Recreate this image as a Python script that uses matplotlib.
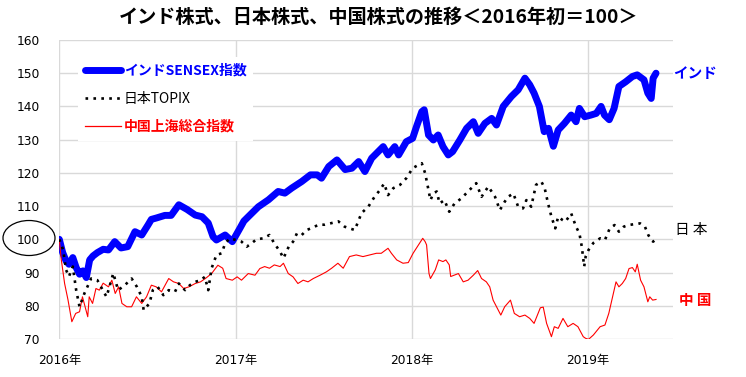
import matplotlib
matplotlib.use("Agg")
import matplotlib.pyplot as plt
import matplotlib.dates as mdates
from matplotlib.patches import Ellipse
from matplotlib.lines import Line2D
import pandas as pd

plt.rcParams['font.family'] = ['DejaVu Sans', 'Noto Sans CJK JP']
JP = ['Noto Sans CJK JP', 'DejaVu Sans']

# インド SENSEX (2016年初=100)
india_dates = [
    '2016-01-01', '2016-01-08', '2016-01-15', '2016-01-21', '2016-01-29', '2016-02-05',
    '2016-02-12', '2016-02-19', '2016-02-26', '2016-03-04', '2016-03-11', '2016-03-20',
    '2016-04-01', '2016-04-12', '2016-04-25', '2016-05-08', '2016-05-22', '2016-06-06',
    '2016-06-20', '2016-07-03', '2016-07-10', '2016-07-20', '2016-08-07', '2016-08-20',
    '2016-09-05', '2016-09-22', '2016-10-09', '2016-10-23', '2016-11-05', '2016-11-15',
    '2016-11-22', '2016-12-10', '2016-12-25', '2017-01-10', '2017-01-18', '2017-02-03',
    '2017-02-17', '2017-03-10', '2017-03-30', '2017-04-13', '2017-04-27', '2017-05-18',
    '2017-06-05', '2017-06-19', '2017-06-28', '2017-07-13', '2017-07-30', '2017-08-16',
    '2017-08-30', '2017-09-13', '2017-09-26', '2017-10-10', '2017-11-03', '2017-11-13',
    '2017-11-27', '2017-12-05', '2017-12-21', '2018-01-03', '2018-01-11', '2018-01-22',
    '2018-01-27', '2018-02-05', '2018-02-15', '2018-02-25', '2018-03-07', '2018-03-18',
    '2018-03-27', '2018-04-11', '2018-04-25', '2018-05-09', '2018-05-19', '2018-06-02',
    '2018-06-16', '2018-06-26', '2018-07-10', '2018-07-27', '2018-08-10', '2018-08-24',
    '2018-09-03', '2018-09-12', '2018-09-23', '2018-10-03', '2018-10-12', '2018-10-22',
    '2018-11-01', '2018-11-14', '2018-11-28', '2018-12-08', '2018-12-15', '2018-12-26',
    '2019-01-08', '2019-01-19', '2019-01-29', '2019-02-05', '2019-02-15', '2019-02-25',
    '2019-03-07', '2019-03-21', '2019-04-04', '2019-04-14', '2019-04-28', '2019-05-06',
    '2019-05-13', '2019-05-17', '2019-05-23',
]
india_vals = [
    100, 96, 93.5, 92.5, 94.5, 91.5,
    89.5, 90.5, 88.5, 93.8, 95, 96,
    97, 96.8, 99.3, 97.4, 97.8, 102.3,
    101.3, 104.3, 106, 106.4, 107.2, 107.2,
    110.4, 109, 107.3, 106.8, 104.9, 100.8,
    99.8, 101.3, 99.3, 103.4, 105.5, 107.8,
    109.8, 111.9, 114.4, 113.9, 115.4, 117.4,
    119.4, 119.4, 118.4, 121.9, 123.9, 121,
    121.4, 123.4, 120.4, 124.4, 127.9, 125.4,
    127.9, 125.4, 129.4, 130.4, 133.9, 138.4,
    139, 131.4, 129.9, 131.4, 127.9, 125.4,
    126.4, 129.9, 133.4, 135.4, 131.9, 134.9,
    136.4, 134.4, 140, 143, 145, 148.5,
    146.5, 144, 140, 132.4, 133.4, 128,
    132.9, 134.9, 137.4, 135.4, 139.4, 136.9,
    137.4, 137.9, 140, 137.4, 136, 139.4,
    146, 147.4, 149, 149.5, 148, 144,
    142.4, 148.5, 150,
]

# 日本 TOPIX
japan_dates = [
    '2016-01-01', '2016-01-09', '2016-01-15', '2016-01-21', '2016-01-29', '2016-02-05',
    '2016-02-12', '2016-02-22', '2016-03-07', '2016-03-20', '2016-04-04', '2016-04-08',
    '2016-04-22', '2016-05-02', '2016-05-16', '2016-05-30', '2016-06-10', '2016-06-20',
    '2016-06-24', '2016-07-06', '2016-07-13', '2016-07-23', '2016-08-04', '2016-08-15',
    '2016-08-28', '2016-09-05', '2016-09-18', '2016-09-28', '2016-10-09', '2016-10-20',
    '2016-10-29', '2016-11-05', '2016-11-12', '2016-11-22', '2016-12-03', '2016-12-10',
    '2016-12-20', '2017-01-01', '2017-01-13', '2017-01-24', '2017-02-03', '2017-02-13',
    '2017-02-27', '2017-03-12', '2017-03-22', '2017-04-03', '2017-04-10', '2017-04-21',
    '2017-04-30', '2017-05-08', '2017-05-18', '2017-05-28', '2017-06-08', '2017-06-22',
    '2017-07-05', '2017-07-22', '2017-08-02', '2017-08-15', '2017-08-25', '2017-09-05',
    '2017-09-19', '2017-10-03', '2017-10-16', '2017-10-27', '2017-11-05', '2017-11-13',
    '2017-11-24', '2017-12-08', '2017-12-21', '2018-01-03', '2018-01-15', '2018-01-22',
    '2018-01-29', '2018-02-05', '2018-02-09', '2018-02-15', '2018-02-22', '2018-02-28',
    '2018-03-10', '2018-03-20', '2018-03-31', '2018-04-14', '2018-04-28', '2018-05-15',
    '2018-05-26', '2018-06-09', '2018-06-23', '2018-07-03', '2018-07-13', '2018-07-20',
    '2018-07-31', '2018-08-10', '2018-08-20', '2018-08-27', '2018-09-06', '2018-09-16',
    '2018-09-27', '2018-10-04', '2018-10-11', '2018-10-18', '2018-10-26', '2018-11-01',
    '2018-11-10', '2018-11-16', '2018-11-28', '2018-12-08', '2018-12-15', '2018-12-20',
    '2018-12-25', '2018-12-28', '2019-01-03', '2019-01-13', '2019-01-27', '2019-02-06',
    '2019-02-16', '2019-02-26', '2019-03-07', '2019-03-17', '2019-03-27', '2019-04-10',
    '2019-04-20', '2019-04-30', '2019-05-07', '2019-05-13', '2019-05-17', '2019-05-23',
]
japan_vals = [
    100, 96.8, 90.8, 88.8, 91.8, 84.7,
    79.7, 83.7, 88.2, 87.7, 83.7, 82.7,
    89.8, 84.7, 86.2, 88.2, 85.7, 82.7,
    78.7, 80.7, 84.7, 85.7, 83.2, 84.7,
    84.2, 86.7, 84.7, 86.2, 87.2, 87.7,
    88.7, 84.7, 91.3, 95.3, 95.8, 98.8,
    100.3, 99.8, 99.3, 97.8, 98.8, 100,
    100.3, 101.3, 98.8, 96.3, 94.3, 97.8,
    99.3, 101.8, 101.3, 102.8, 103.4, 104.4,
    104.4, 105, 105.4, 103.8, 103.3, 102.8,
    107.9, 109.8, 112.8, 114.8, 116.8, 113.3,
    115.4, 116.4, 118.4, 121.4, 122.4, 122.9,
    119.9, 114.8, 111.8, 113.8, 114.4, 110.8,
    111.8, 108.3, 110.8, 112.3, 114.4, 116.9,
    112.8, 115.9, 112.8, 108.8, 111.3, 112.8,
    113.8, 109.8, 109.3, 111.8, 109.8, 116.4,
    117.4, 115.4, 110.8, 106.8, 103.3, 106.8,
    105.8, 105.3, 107.8, 103.8, 101.8, 97.8,
    91.8, 94.8, 96.8, 98.9, 100.3, 99.8,
    103.3, 104.3, 102.3, 103.8, 104.3, 104.6,
    104.8, 103.8, 101.3, 99.8, 99.3, 100,
]

# 中国 上海総合
china_dates = [
    '2016-01-01', '2016-01-05', '2016-01-12', '2016-01-19', '2016-01-27', '2016-02-04',
    '2016-02-12', '2016-02-18', '2016-02-29', '2016-03-03', '2016-03-10', '2016-03-17',
    '2016-03-24', '2016-04-01', '2016-04-12', '2016-04-19', '2016-04-26', '2016-05-03',
    '2016-05-10', '2016-05-20', '2016-05-30', '2016-06-09', '2016-06-20', '2016-06-30',
    '2016-07-10', '2016-07-20', '2016-07-31', '2016-08-15', '2016-08-25', '2016-09-05',
    '2016-09-15', '2016-09-26', '2016-10-09', '2016-10-20', '2016-10-30', '2016-11-12',
    '2016-11-25', '2016-12-05', '2016-12-12', '2016-12-25', '2017-01-04', '2017-01-13',
    '2017-01-27', '2017-02-10', '2017-02-20', '2017-03-02', '2017-03-12', '2017-03-22',
    '2017-04-03', '2017-04-10', '2017-04-20', '2017-04-30', '2017-05-10', '2017-05-21',
    '2017-05-31', '2017-06-11', '2017-06-25', '2017-07-08', '2017-07-19', '2017-08-01',
    '2017-08-12', '2017-08-25', '2017-09-08', '2017-09-22', '2017-10-06', '2017-10-20',
    '2017-10-30', '2017-11-13', '2017-11-20', '2017-12-01', '2017-12-14', '2017-12-25',
    '2018-01-04', '2018-01-15', '2018-01-24', '2018-01-29', '2018-02-01', '2018-02-06',
    '2018-02-09', '2018-02-19', '2018-02-26', '2018-03-07', '2018-03-13', '2018-03-20',
    '2018-03-23', '2018-04-08', '2018-04-18', '2018-04-28', '2018-05-09', '2018-05-18',
    '2018-05-26', '2018-06-05', '2018-06-12', '2018-06-19', '2018-06-26', '2018-07-05',
    '2018-07-13', '2018-07-25', '2018-08-02', '2018-08-13', '2018-08-24', '2018-09-03',
    '2018-09-12', '2018-09-25', '2018-10-01', '2018-10-08', '2018-10-18', '2018-10-24',
    '2018-11-01', '2018-11-11', '2018-11-21', '2018-12-02', '2018-12-12', '2018-12-23',
    '2018-12-28', '2019-01-03', '2019-01-13', '2019-01-27', '2019-02-06', '2019-02-14',
    '2019-02-22', '2019-03-01', '2019-03-07', '2019-03-14', '2019-03-21', '2019-03-28',
    '2019-04-04', '2019-04-10', '2019-04-14', '2019-04-21', '2019-04-28', '2019-05-06',
    '2019-05-10', '2019-05-16', '2019-05-23',
]
china_vals = [
    100, 94, 86.7, 81.8, 75.2, 77.7,
    78.2, 82.7, 76.7, 82.7, 80.7, 85.2,
    84.7, 86.8, 85.7, 87.7, 83.7, 85.7,
    80.7, 79.7, 79.7, 82.7, 80.7, 82.7,
    86.2, 85.7, 84.2, 88.2, 87.2, 86.7,
    85.2, 85.7, 86.7, 87.2, 88.2, 89.7,
    92.2, 91.3, 88.2, 87.7, 88.7, 87.7,
    89.7, 89.2, 91.2, 91.8, 91.3, 92.3,
    91.8, 92.8, 89.7, 88.7, 86.7, 87.7,
    87.2, 88.2, 89.2, 90.2, 91.3, 92.8,
    91.3, 94.8, 95.3, 94.8, 95.3, 95.8,
    95.8, 97.3, 95.8, 93.8, 92.8, 93,
    95.8, 98.3, 100.3, 99.3, 98.3, 89.7,
    88.2, 90.8, 93.8, 93.3, 93.8, 92.3,
    88.8, 89.7, 87.2, 87.7, 89.2, 90.6,
    88.2, 87.2, 85.7, 81.7, 79.7, 77.2,
    79.7, 81.7, 77.7, 76.7, 77.2, 76.2,
    74.7, 79.4, 79.6, 74.7, 70.7, 73.7,
    73.2, 76.2, 73.7, 74.7, 73.7, 70.7,
    70.2, 69.9, 71.2, 73.7, 74.2, 77.7,
    82.7, 87.2, 85.7, 86.7, 88.2, 91.2,
    91.5, 90.2, 92.5, 87.7, 85.7, 81.2,
    82.7, 81.7, 81.9,
]

year_ticks = ['2016-01-01', '2017-01-01', '2018-01-01', '2019-01-01']
year_labels = ['2016年', '2017年', '2018年', '2019年']
y_ticks = [70, 80, 90, 100, 110, 120, 130, 140, 150, 160]

fig = plt.figure(figsize=(7.46, 3.77), dpi=100)
ax = fig.add_axes([0.0795, 0.1008, 0.8225, 0.7932])

ax.plot(pd.to_datetime(india_dates), india_vals, color='#0000FF', lw=5,
        solid_joinstyle='round', solid_capstyle='round', zorder=3)
ax.plot(pd.to_datetime(china_dates), china_vals, color='#FF0000', lw=0.8, zorder=4)
ax.plot(pd.to_datetime(japan_dates), japan_vals, color='black', lw=1.9,
        linestyle=(0, (1, 2)), dash_capstyle='butt', zorder=5)

ax.set_xlim(pd.Timestamp('2016-01-01'), pd.Timestamp('2019-06-27'))
ax.set_ylim(70, 160)
ax.set_yticks(y_ticks)
ax.set_xticks(pd.to_datetime(year_ticks))
ax.set_xticklabels(year_labels)
ax.tick_params(axis='y', length=0, pad=14, labelsize=8.8)
ax.tick_params(axis='x', length=0, pad=11, labelsize=8.8)
for s in ax.spines.values():
    s.set_visible(False)
ax.grid(True, color='#D9D9D9', lw=1)
ax.set_axisbelow(True)

fig.suptitle('インド株式、日本株式、中国株式の推移＜2016年初＝100＞', x=0.508, y=0.978,
             fontsize=13.8, fontweight='bold', family=JP)

handles = [
    Line2D([], [], color='#0000FF', lw=5, solid_capstyle='round'),
    Line2D([], [], color='black', lw=1.9, linestyle=(0, (1, 2)), dash_capstyle='butt'),
    Line2D([], [], color='#FF0000', lw=0.9),
]
labels = ['インドSENSEX指数', '日本TOPIX', '中国上海総合指数']
leg = ax.legend(handles, labels, loc='upper left', bbox_to_anchor=(71 / 746, 1 - 50 / 377),
                bbox_transform=fig.transFigure, frameon=True, facecolor='white',
                edgecolor='none', framealpha=1, fancybox=False, handlelength=2.6,
                handletextpad=0.2, labelspacing=1.0, borderpad=0.5,
                prop={'family': JP, 'size': 10})
leg.set_zorder(10)
for txt, col, w in zip(leg.get_texts(), ['#0000FF', 'black', '#FF0000'],
                       ['bold', 'normal', 'bold']):
    txt.set_color(col)
    txt.set_fontweight(w)

# 右端のラベル
ax.text(1.0, 150, 'インド', transform=ax.get_yaxis_transform(), color='#0000FF',
        fontsize=10.5, fontweight='bold', family=JP, va='center', ha='left')
ax.text(1.003, 102.8, '日 本', transform=ax.get_yaxis_transform(), color='black',
        fontsize=10.5, family=JP, va='center', ha='left')
ax.text(1.01, 81.7, '中 国', transform=ax.get_yaxis_transform(), color='#FF0000',
        fontsize=10.5, fontweight='bold', family=JP, va='center', ha='left')

# 100 を囲む楕円
fig.patches.append(Ellipse((29 / 746, 1 - 238 / 377), 52 / 746, 35 / 377,
                           transform=fig.transFigure, fill=False, edgecolor='black', lw=0.9))

fig.savefig('out.png', dpi=100)
